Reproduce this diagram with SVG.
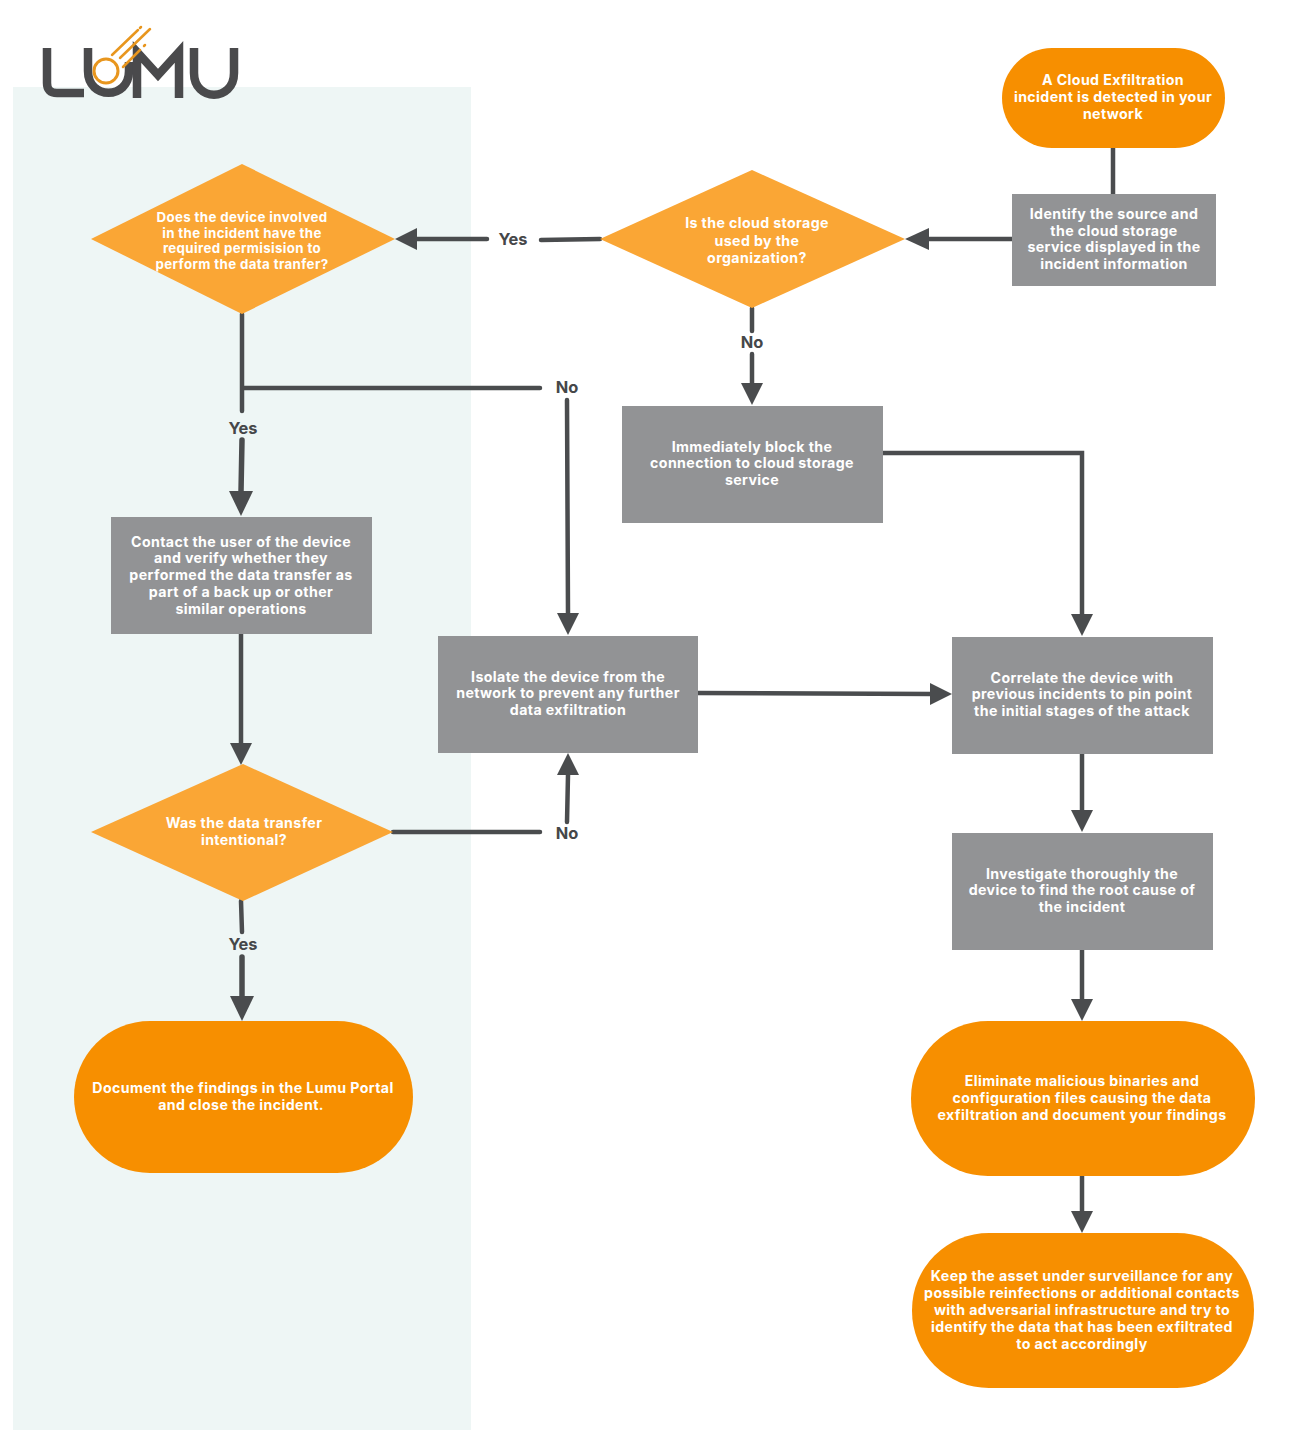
<svg xmlns="http://www.w3.org/2000/svg" width="1300" height="1430" viewBox="0 0 1300 1430">
<style>
text{font-family:"Inter","Noto Sans","Liberation Sans",sans-serif;font-weight:700;text-anchor:middle}
.t{fill:#fff;font-size:14.2px;letter-spacing:.38px}
.s{font-size:13.3px;letter-spacing:.36px}
.l{fill:#454749;font-size:16.4px;letter-spacing:0}
.p{fill:#f78f00}.d{fill:#faa635}.r{fill:#929395}
.c{fill:none;stroke:#4a4c4e;stroke-width:4.5px;stroke-linecap:round;stroke-linejoin:miter}
.h{stroke-width:5.5px}
.a{fill:#4a4c4e}
</style>
<rect width="1300" height="1430" fill="#fff"/>
<rect x="13" y="87" width="458" height="1343" fill="#eef6f5"/>
<g id="logo" fill="none">
<path d="M47 48V83Q47 93 57 93H84" stroke="#4a4a4c" stroke-width="8.5"/>
<path d="M88 48V71C88 100 129 100 129 71V62" stroke="#4a4a4c" stroke-width="8.5"/>
<path d="M137 98V52L158 75L179 52V98" stroke="#4a4a4c" stroke-width="8.5"/>
<path d="M194 48V73C194 102 234 102 234 73V48" stroke="#4a4a4c" stroke-width="8.5"/>
<circle cx="106" cy="71" r="12" stroke="#e8961e" stroke-width="3"/>
<path d="M112 55L138 30M120 58L150 29M123 67L140 50M140 28L141 27M144 46L145 45" stroke="#e8961e" stroke-width="2.5" stroke-linecap="round"/>
</g>
<g id="connectors">
<path class="c" d="M1113 148V194M1012 239H925"/><path class="a" d="M905 239L929 228V250Z"/>
<path class="c" d="M600 239L541 240M487 239L412 239"/><path class="a" d="M395 239L417 228V250Z"/>
<path class="c" d="M752 308V331M752 354V385"/><path class="a" d="M752 405L741 383H763Z"/>
<path class="c" d="M883 453H1082V615"/><path class="a" d="M1082 636L1071 614H1093Z"/>
<path class="c" d="M242 314V411M242 388L540 388"/><path class="c h" d="M242 440L241 492"/><path class="a" d="M241 516L229 491H253Z"/>
<path class="c" d="M567 400L568 615"/><path class="a" d="M568 635L557 613H579Z"/>
<path class="c" d="M241 633L241 743"/><path class="a" d="M241 765L230 743H252Z"/>
<path class="c" d="M393 832H540M567 822L568 775"/><path class="a" d="M568 753L579 775H557Z"/>
<path class="c" d="M697 693L932 694"/><path class="a" d="M952 694L930 683V705Z"/>
<path class="c" d="M1082 752V810"/><path class="a" d="M1082 832L1071 810H1093Z"/>
<path class="c" d="M241 901L242 932"/><path class="c h" d="M242 957L242 997"/><path class="a" d="M242 1021L230 996H254Z"/>
<path class="c" d="M1082 949V999"/><path class="a" d="M1082 1021L1071 999H1093Z"/>
<path class="c" d="M1082 1175V1211"/><path class="a" d="M1082 1233L1071 1211H1093Z"/>
</g>
<g id="n1"><rect class="p" x="1002" y="48" width="223" height="100" rx="50"/><text class="t" x="1113" y="85">A Cloud Exfiltration</text><text class="t" x="1113" y="102">incident is detected in your</text><text class="t" x="1113" y="119">network</text></g>
<g id="n2"><rect class="r" x="1012" y="194" width="204" height="92"/><text class="t" x="1114" y="219">Identify the source and</text><text class="t" x="1114" y="236">the cloud storage</text><text class="t" x="1114" y="252">service displayed in the</text><text class="t" x="1114" y="269">incident information</text></g>
<g id="n3"><polygon class="d" points="752,170 905,239 752,308 600,239"/><text class="t" x="757" y="228">Is the cloud storage</text><text class="t" x="757" y="246">used by the</text><text class="t" x="757" y="263">organization?</text></g>
<g id="n4"><polygon class="d" points="242,164 395,239 242,314 91,239"/><text class="t s" x="242" y="222">Does the device involved</text><text class="t s" x="242" y="238">in the incident have the</text><text class="t s" x="242" y="253">required permisision to</text><text class="t s" x="242" y="269">perform the data tranfer?</text></g>
<g id="n5"><rect class="r" x="622" y="406" width="261" height="117"/><text class="t" x="752" y="452">Immediately block the</text><text class="t" x="752" y="468">connection to cloud storage</text><text class="t" x="752" y="485">service</text></g>
<g id="n6"><rect class="r" x="111" y="517" width="261" height="117"/><text class="t" x="241" y="547">Contact the user of the device</text><text class="t" x="241" y="563">and verify whether they</text><text class="t" x="241" y="580">performed the data transfer as</text><text class="t" x="241" y="597">part of a back up or other</text><text class="t" x="241" y="614">similar operations</text></g>
<g id="n7"><rect class="r" x="438" y="636" width="260" height="117"/><text class="t" x="568" y="682">Isolate the device from the</text><text class="t" x="568" y="698">network to prevent any further</text><text class="t" x="568" y="715">data exfiltration</text></g>
<g id="n8"><rect class="r" x="952" y="637" width="261" height="117"/><text class="t" x="1082" y="683">Correlate the device with</text><text class="t" x="1082" y="699">previous incidents to pin point</text><text class="t" x="1082" y="716">the initial stages of the attack</text></g>
<g id="n9"><polygon class="d" points="243,764 393,832 243,901 91,832"/><text class="t" x="244" y="828">Was the data transfer</text><text class="t" x="244" y="845">intentional?</text></g>
<g id="n10"><rect class="r" x="952" y="833" width="261" height="117"/><text class="t" x="1082" y="879">Investigate thoroughly the</text><text class="t" x="1082" y="895">device to find the root cause of</text><text class="t" x="1082" y="912">the incident</text></g>
<g id="n11"><rect class="p" x="74" y="1021" width="339" height="152" rx="76"/><text class="t" x="243" y="1093">Document the findings in the Lumu Portal</text><text class="t" x="241" y="1110">and close the incident.</text></g>
<g id="n12"><rect class="p" x="911" y="1021" width="344" height="155" rx="77"/><text class="t" x="1082" y="1086">Eliminate malicious binaries and</text><text class="t" x="1082" y="1103">configuration files causing the data</text><text class="t" x="1082" y="1120">exfiltration and document your findings</text></g>
<g id="n13"><rect class="p" x="912" y="1233" width="342" height="155" rx="77"/><text class="t" x="1082" y="1281">Keep the asset under surveillance for any</text><text class="t" x="1082" y="1298">possible reinfections or additional contacts</text><text class="t" x="1082" y="1315">with adversarial infrastructure and try to</text><text class="t" x="1082" y="1332">identify the data that has been exfiltrated</text><text class="t" x="1082" y="1349">to act accordingly</text></g>
<g id="labels"><text class="l" x="513" y="245">Yes</text><text class="l" x="752" y="348">No</text><text class="l" x="567" y="393">No</text><text class="l" x="243" y="434">Yes</text><text class="l" x="567" y="839">No</text><text class="l" x="243" y="950">Yes</text></g>
</svg>
